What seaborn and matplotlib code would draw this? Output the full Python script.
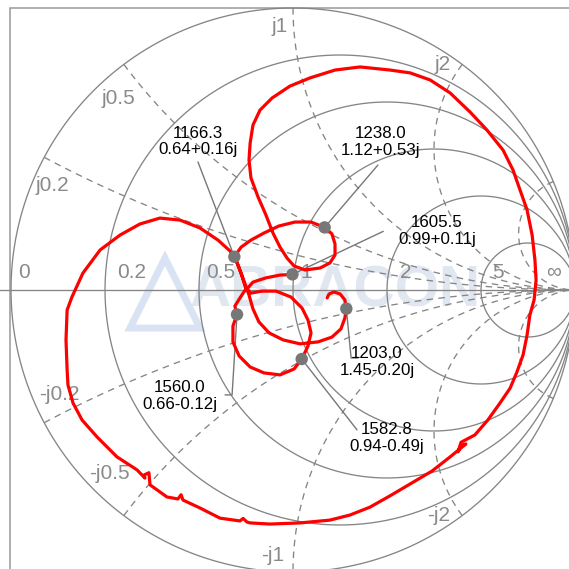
import numpy as np
import pandas as pd
import matplotlib
matplotlib.use("Agg")
import matplotlib.pyplot as plt
import seaborn as sns
from matplotlib.patches import Rectangle

# ---------------- data (reflection coefficient) -------------
gamma_re = [0.121, 0.128, 0.145, 0.167, 0.184, 0.189, 0.184, 0.170, 0.138, 0.089,
            0.025, -0.035, -0.085, -0.121, -0.142, -0.156, -0.174, -0.191, -0.208, -0.184,
            -0.149, -0.103, -0.050, 0.007, 0.064, 0.112, 0.138, 0.149, 0.149, 0.131,
            0.096, 0.043, 0.004, -0.021,
            -0.046, -0.071, -0.096, -0.124, -0.149, -0.156, -0.152, -0.142, -0.117,
            -0.074, -0.011, 0.060, 0.149, 0.238, 0.344, 0.415, 0.486, 0.557, 0.628,
            0.688, 0.745, 0.780, 0.805, 0.830, 0.848, 0.858, 0.862, 0.855, 0.840,
            0.830, 0.816, 0.794, 0.770, 0.734, 0.691, 0.645, 0.596, 0.585, 0.596, 0.613,
            0.557, 0.493, 0.415, 0.344, 0.273, 0.202, 0.131, 0.025, -0.082, -0.152,
            -0.163, -0.177, -0.188, -0.259,
            -0.330, -0.390, -0.397, -0.408, -0.447, -0.507, -0.511, -0.528, -0.525,
            -0.553, -0.624, -0.695, -0.748, -0.780, -0.798,
            -0.801, -0.805, -0.801, -0.784, -0.745, -0.684, -0.613, -0.543, -0.472, -0.401,
            -0.330, -0.266, -0.223, -0.199, -0.181, -0.167, -0.188, -0.206, -0.199, -0.213,
            -0.213, -0.191, -0.152, -0.103, -0.046, 0.004, 0.031, 0.053, 0.064, 0.053,
            0.032, -0.007, -0.060, -0.110, -0.149, -0.163, -0.142, -0.096, -0.046, -0.002]
gamma_im = [-0.028, -0.014, -0.007, -0.014, -0.035, -0.066, -0.099, -0.138, -0.167, -0.184,
            -0.191, -0.177, -0.152, -0.113, -0.067, -0.018, 0.032, 0.078, 0.118, 0.152,
            0.177, 0.202, 0.227, 0.241, 0.241, 0.222, 0.199, 0.163, 0.124, 0.096,
            0.078, 0.071, 0.085, 0.113,
            0.152, 0.202, 0.266, 0.330, 0.397, 0.461, 0.521, 0.585, 0.638,
            0.681, 0.723, 0.752, 0.780, 0.791, 0.780, 0.770, 0.745, 0.699, 0.631,
            0.567, 0.496, 0.426, 0.355, 0.284, 0.195, 0.106, 0.035, -0.035, -0.089,
            -0.160, -0.230, -0.291, -0.348, -0.401, -0.461, -0.514, -0.540, -0.574, -0.553, -0.546,
            -0.592, -0.642, -0.688, -0.730, -0.770, -0.798, -0.816, -0.826, -0.830, -0.826,
            -0.823, -0.810, -0.819, -0.809,
            -0.773, -0.745, -0.726, -0.741, -0.734, -0.691, -0.648, -0.656, -0.667,
            -0.638, -0.592, -0.521, -0.461, -0.401, -0.337,
            -0.284, -0.177, -0.071, -0.025, 0.060, 0.142, 0.195, 0.234, 0.255, 0.248,
            0.220, 0.177, 0.138, 0.099, 0.050, 0.004, -0.028, -0.057, -0.087, -0.128,
            -0.184, -0.234, -0.273, -0.294, -0.301, -0.280, -0.245, -0.199, -0.152, -0.106,
            -0.064, -0.025, -0.004, -0.004, -0.011, 0.004, 0.028, 0.043, 0.053, 0.055]

marker_freq = ["1166.3", "1203.0", "1238.0", "1560.0", "1582.8", "1605.5"]
marker_z = [0.64 + 0.16j, 1.45 - 0.20j, 1.12 + 0.53j, 0.66 - 0.12j, 0.94 - 0.49j, 0.99 + 0.11j]

real_ticks = [0.2, 0.5, 1, 2, 5]
imag_grid = [0.25, 0.5, 1, 2, 5]
real_labels = ["0", "0.2", "0.5", "1", "2", "5", "∞"]
imag_labels = ["j0.2", "j0.5", "j1", "j2", "-j0.2", "-j0.5", "-j1", "-j2"]

# ---------------- figure ------------------------------------------------------------
sns.set_theme(style="white")
plt.rcParams["font.family"] = ["Liberation Sans", "DejaVu Sans"]

fig = plt.figure(figsize=(5.69, 5.69), dpi=100)
ax = fig.add_axes([0, 0, 1, 1])
ax.set_xlim(-1.0390, 0.9787)
ax.set_ylim(-0.9894, 1.0284)
ax.set_aspect("equal")
ax.axis("off")

GRID = "#858585"

def to_gamma(z):
    return (z - 1) / (z + 1)

# frame
ax.add_patch(Rectangle((-1.0035, -1.02), 2.05, 2.02, fill=False, ec="#999999", lw=1.1, zorder=1))

# outer circle and resistance circles
t = np.linspace(0, 2 * np.pi, 721)
for r in [0] + real_ticks:
    c, rad = r / (1 + r), 1 / (1 + r)
    ax.plot(c + rad * np.cos(t), rad * np.sin(t), color=GRID, lw=0.95, zorder=2)
ax.plot([-1.05, 1.0], [0, 0], color=GRID, lw=0.95, zorder=2)

# reactance arcs (dashed)
rr = np.concatenate([np.linspace(0, 1, 200), np.logspace(0, 3.5, 300)])
for xv in imag_grid:
    for s in (1, -1):
        g = to_gamma(rr + 1j * s * xv)
        ax.plot(g.real, g.imag, color=GRID, lw=0.95, dashes=(5, 4), zorder=2)

# axis labels
lab_kw = dict(color="#8a8a8a", fontsize=15, zorder=3)
real_pos = [-0.975, -0.622, -0.309, 0.025, 0.379, 0.706, 0.897]
for lab, x in zip(real_labels, real_pos):
    ax.text(x, 0.028, lab, ha="left", va="bottom", **lab_kw)
imag_pos = [(-0.855, 0.372), (-0.62, 0.68), (-0.046, 0.936), (0.53, 0.80),
            (-0.83, -0.37), (-0.652, -0.652), (-0.071, -0.943), (0.518, -0.798)]
for lab, (x, y) in zip(imag_labels, imag_pos):
    ax.text(x, y, lab, ha="center", va="center", **lab_kw)

# watermark
ax.text(0.15, -0.005, "ABRACON", ha="center", va="center", fontsize=41,
        fontweight="bold", color="#e1e7f1", zorder=1.5)
ax.add_patch(plt.Polygon([[-0.578, -0.135], [-0.454, 0.113], [-0.330, -0.135]], closed=True,
                         fill=False, ec="#d9e3f3", lw=5, zorder=1.5))

# trace
df = pd.DataFrame({"re": gamma_re, "im": gamma_im})
sns.lineplot(data=df, x="re", y="im", sort=False, estimator=None, color="#ff0000",
             lw=2.3, ax=ax, zorder=4)

# markers
mg = [to_gamma(z) for z in marker_z]
mdf = pd.DataFrame({"re": [g.real for g in mg], "im": [g.imag for g in mg]})
sns.scatterplot(data=mdf, x="re", y="im", s=80, color="#777777", edgecolor="none",
                ax=ax, zorder=5)

# annotations
ann_text = [f"{f}\n{z.real:.2f}{'+' if z.imag >= 0 else '-'}{abs(z.imag):.2f}j"
            for f, z in zip(marker_freq, marker_z)]
text_pos = [(-0.337, 0.528), (0.298, -0.255), (0.309, 0.525), (-0.401, -0.376),
            (0.333, -0.525), (0.511, 0.209)]
leader = [[(-0.337, 0.454)], [(0.230, -0.241), (0.206, -0.241)], [(0.301, 0.443)],
          [(-0.241, -0.372), (-0.216, -0.372)], [(0.227, -0.496)], [(0.320, 0.208)]]
for txt, (tx, ty), pts, g in zip(ann_text, text_pos, leader, mg):
    ax.text(tx, ty, txt, ha="center", va="center", fontsize=12.2, color="black",
            linespacing=1.1, zorder=6)
    xs = [p[0] for p in pts] + [g.real]
    ys = [p[1] for p in pts] + [g.imag]
    ax.plot(xs, ys, color="#777777", lw=1.0, zorder=3.5)

fig.savefig("out.png", dpi=100)
